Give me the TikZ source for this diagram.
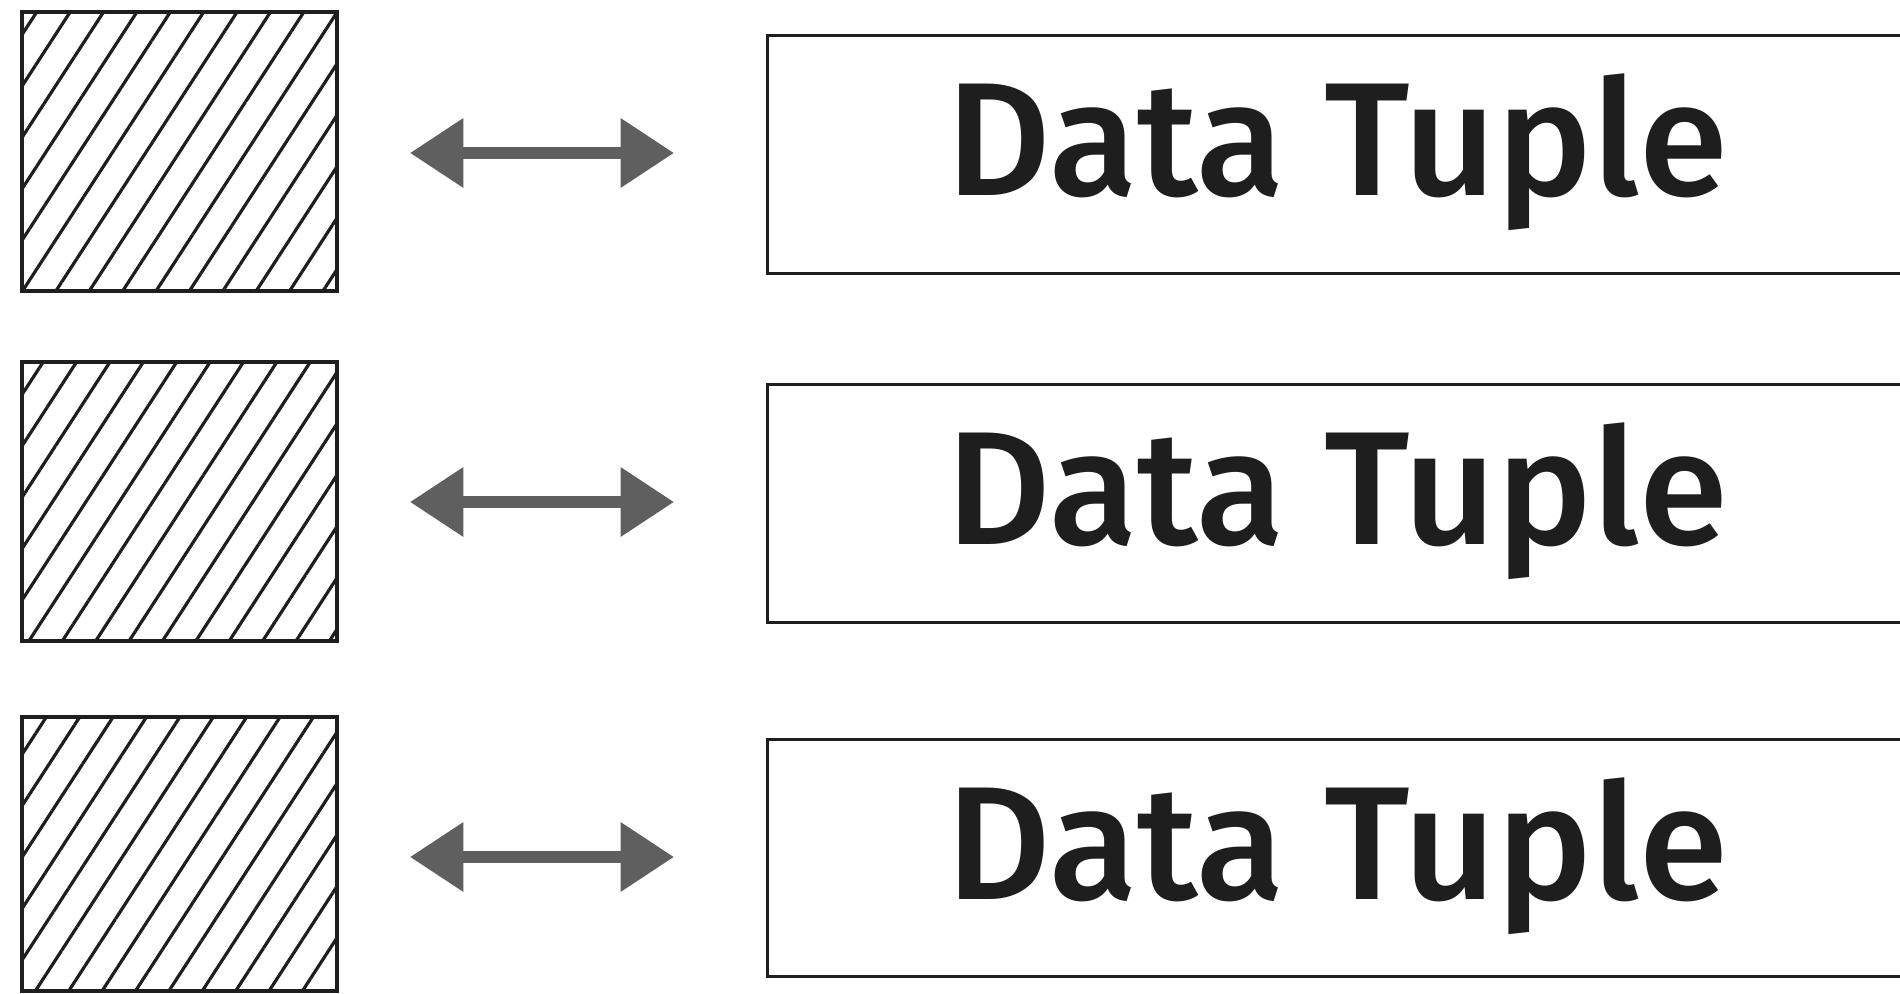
\documentclass[tikz,border=0pt]{standalone}
\usepackage{fontspec}
\setmainfont{Fira Sans}
\newfontfamily\tuplefont{Fira Sans Medium}
\usetikzlibrary{arrows.meta,patterns.meta}
\definecolor{arrowgray}{HTML}{5F5F5F}
\definecolor{ink}{HTML}{1E1E1E}
\begin{document}
\begin{tikzpicture}[x=0.75pt,y=-0.75pt,
  hatchbox/.style={draw=ink, line width=3.2pt, inner sep=0pt,
    minimum width=236pt, minimum height=209pt,
    pattern={Lines[angle=57,distance=21pt,line width=2.4pt]}, pattern color=ink},
  tuplebox/.style={draw=ink, line width=2.3pt, inner sep=0pt,
    minimum width=872pt, minimum height=178pt},
  tupletext/.style={text=ink, font=\fontsize{121}{130}\tuplefont, inner sep=0pt},
  biarrow/.style={draw=arrowgray, line width=8.5pt,
    {Triangle[length=40pt,width=50pt]}-{Triangle[length=40pt,width=50pt]}}]
\useasboundingbox (0,0) rectangle (1900,994);
\clip (0,0) rectangle (1900,994);
% row 1
\node[hatchbox] (s1) at (179.5,151.5) {};
\node[tuplebox] (t1) at (1349,154.5) {};
\node[tupletext] (l1) at (1337,152) {Data Tuple};
\coordinate (a1l) at (410,153);
\coordinate (a1r) at (674,153);
\draw[biarrow] (a1l) -- (a1r);
% row 2
\node[hatchbox] (s2) at (179.5,501.5) {};
\node[tuplebox] (t2) at (1349,503.5) {};
\node[tupletext] (l2) at (1337,501) {Data Tuple};
\coordinate (a2l) at (410,502);
\coordinate (a2r) at (674,502);
\draw[biarrow] (a2l) -- (a2r);
% row 3
\node[hatchbox, minimum height=205.5pt] (s3) at (179.5,854) {};
\node[tuplebox] (t3) at (1349,858) {};
\node[tupletext] (l3) at (1337,856) {Data Tuple};
\coordinate (a3l) at (410,857);
\coordinate (a3r) at (674,857);
\draw[biarrow] (a3l) -- (a3r);
\end{tikzpicture}
\end{document}
